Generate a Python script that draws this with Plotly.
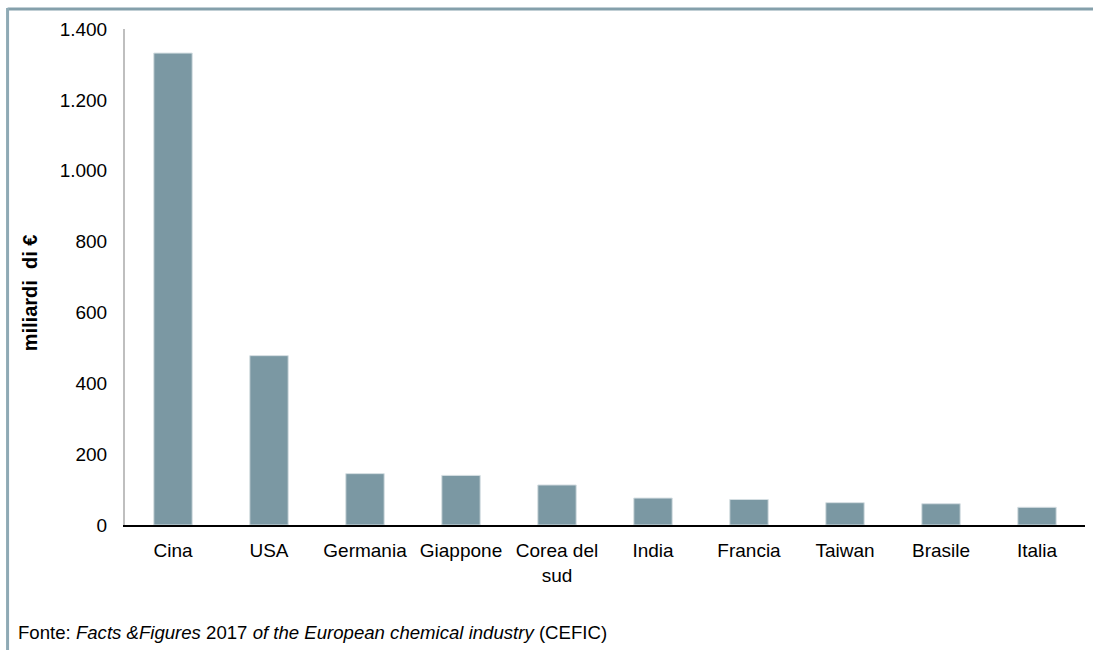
import plotly.graph_objects as go

countries = ["Cina", "USA", "Germania", "Giappone", "Corea del<br>sud",
             "India", "Francia", "Taiwan", "Brasile", "Italia"]
values = [1332, 478, 145, 140, 113, 76, 72, 63, 60, 50]
y_ticks = [0, 200, 400, 600, 800, 1000, 1200, 1400]

W, H = 1093, 650
L, R, T, B = 124.5, 1085, 29, 525.5
pw, ph = R - L, B - T

def px(x):
    return (x - L) / pw

def py(y):
    return (B - y) / ph

fig = go.Figure(go.Bar(
    x=countries, y=values,
    marker=dict(color="#7B98A3", line=dict(color="#D5DEE2", width=1)),
    width=0.4,
))

font_main = "Liberation Sans, Arial, sans-serif"

fig.update_layout(
    width=W, height=H,
    margin=dict(l=L, r=W - R, t=T, b=H - B, pad=0),
    paper_bgcolor="white", plot_bgcolor="white",
    separators=",.",
    showlegend=False,
    font=dict(family=font_main, size=19, color="#000000"),
    xaxis=dict(
        showline=True, linecolor="#000000", linewidth=2,
        ticks="", tickfont=dict(size=19, family=font_main),
        tickangle=0, ticklabelstandoff=7,
        showgrid=False, zeroline=False,
    ),
    yaxis=dict(
        range=[0, 1400], tickvals=y_ticks, tickformat=",d",
        showline=True, linecolor="#BFBFBF", linewidth=2,
        showgrid=False, zeroline=False, ticks="",
        tickfont=dict(size=19, family=font_main),
        ticklabelstandoff=12,
    ),
    annotations=[
        dict(text="<b>miliardi  di €</b>", textangle=-90,
             x=px(29), y=py(293), xref="paper", yref="paper",
             showarrow=False, font=dict(size=20, family=font_main),
             xanchor="center", yanchor="middle"),
        dict(text="Fonte: <i>Facts &Figures</i> 2017 <i>of the European chemical industry</i> (CEFIC)",
             x=px(15), y=py(633), xref="paper", yref="paper",
             showarrow=False, xanchor="left", yanchor="middle",
             font=dict(size=18.6, family=font_main)),
    ],
    shapes=[
        dict(type="line", xref="paper", yref="paper",
             x0=px(7), x1=px(W + 5), y0=py(9), y1=py(9),
             line=dict(color="#84A0AB", width=3)),
        dict(type="line", xref="paper", yref="paper",
             x0=px(7), x1=px(7), y0=py(8), y1=py(H + 5),
             line=dict(color="#8FAAB5", width=3)),
    ],
)

fig.write_html("out.html", config={"displayModeBar": False},
               post_script="document.body.style.margin='0';document.body.style.overflow='hidden';")
